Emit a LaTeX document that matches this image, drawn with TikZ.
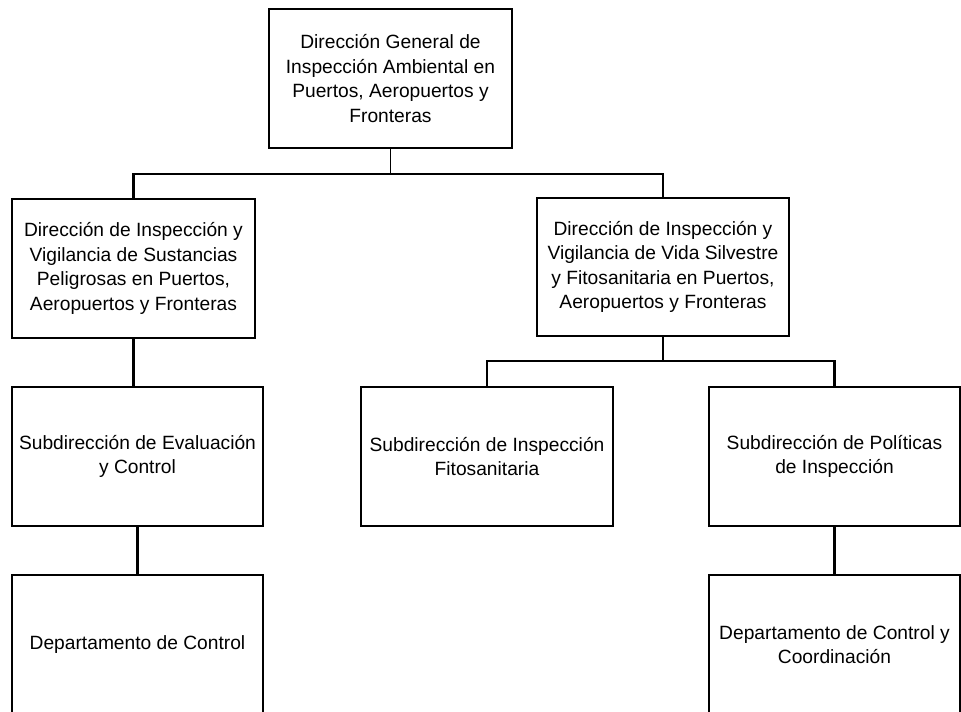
\documentclass[tikz,border=0pt]{standalone}
\usepackage{fontspec}
\setmainfont{Liberation Sans}
\usepackage{tikz}
\usetikzlibrary{positioning}

\begin{document}
\begin{tikzpicture}[
        x=0.75pt, y=-0.75pt,
        orgbox/.style={rectangle, draw, align=center, inner sep=2pt,
            minimum height=104.25pt, font=\fontsize{14.4}{18.4}\selectfont},
        edge/.style={draw, line width=1.6pt}
    ]
        \useasboundingbox (0,0) rectangle (961,712);

        % Top level
        \node[orgbox, line width=1pt, minimum width=182.25pt] (gen) at (390.5,78.5)
            {Dirección General de\\Inspección Ambiental en\\Puertos, Aeropuertos y\\Fronteras};

        % Directions
        \node[orgbox, line width=1.9pt, minimum width=182.25pt] (dsp) at (133.5,268.5)
            {Dirección de Inspección y\\Vigilancia de Sustancias\\Peligrosas en Puertos,\\Aeropuertos y Fronteras};
        \node[orgbox, line width=1pt, minimum width=189pt, minimum height=103.5pt] (dvs) at (663,267)
            {Dirección de Inspección y\\Vigilancia de Vida Silvestre\\y Fitosanitaria en Puertos,\\Aeropuertos y Fronteras};

        % Subdirections
        \node[orgbox, line width=1.6pt, minimum width=188.25pt] (sec) at (137.5,456.5)
            {Subdirección de Evaluación\\y Control};
        \node[orgbox, line width=1.6pt, minimum width=189pt] (sfi) at (487,456.5)
            {Subdirección de Inspección\\Fitosanitaria};
        \node[orgbox, line width=1.6pt, minimum width=188.25pt] (spi) at (834.5,456.5)
            {Subdirección de Políticas\\de Inspección};

        % Departments
        \node[orgbox, line width=1.6pt, minimum width=188.25pt] (dco) at (137.5,644.5)
            {Departamento de Control};
        \node[orgbox, line width=1.6pt, minimum width=188.25pt] (dcc) at (834.5,644.5)
            {Departamento de Control y\\Coordinación};

        % Junctions
        \coordinate (j1) at (390.5,174);
        \coordinate (j2) at (663,361);

        % Edges
        \draw[edge, line width=1pt] (gen.south) -- (j1);
        \draw[edge] (dsp.north) |- (j1) -| (dvs.north);
        \draw[edge] (dvs.south) -- (j2);
        \draw[edge] (sfi.north) |- (j2) -| (spi.north);
        \draw[edge] (dsp.south) -- (dsp.south |- sec.north);
        \draw[edge] (sec.south) -- (dco.north);
        \draw[edge] (spi.south) -- (dcc.north);
    \end{tikzpicture}
\end{document}
